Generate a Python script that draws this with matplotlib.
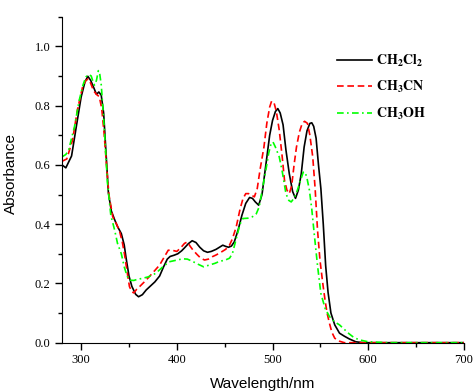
import matplotlib
matplotlib.use("Agg")
import matplotlib.pyplot as plt
from matplotlib.ticker import MultipleLocator

plt.rcParams['mathtext.fontset'] = 'stix'

# CH2Cl2 (black, solid)
wl_dcm = [280, 284, 290, 295, 300, 304, 307, 310, 313, 316, 318.5, 321, 323.5, 326,
          328.5, 331.5, 335, 338, 342, 345, 347, 350, 353, 357, 360, 364, 368, 372,
          377, 382, 386, 390, 393, 397, 401, 405, 408, 412, 416, 420, 424, 428, 432,
          436, 441, 445, 448, 451, 454, 457, 460, 464, 468, 472, 476, 479, 482, 485.5,
          489, 493, 497, 500, 503, 505.5, 508, 511, 514, 517.5, 521, 524, 527, 530,
          533, 536, 539, 541, 543, 545.5, 548, 550.5, 553, 555.5, 558, 561, 565, 570,
          575, 580, 587, 595, 620, 660, 700]
abs_dcm = [0.600, 0.590, 0.630, 0.730, 0.829, 0.880, 0.899, 0.885, 0.862, 0.838, 0.846,
           0.835, 0.775, 0.640, 0.505, 0.445, 0.415, 0.392, 0.368, 0.330, 0.285, 0.225,
           0.190, 0.163, 0.155, 0.162, 0.178, 0.190, 0.205, 0.225, 0.255, 0.282, 0.291,
           0.295, 0.300, 0.310, 0.320, 0.334, 0.344, 0.338, 0.322, 0.310, 0.305, 0.308,
           0.315, 0.323, 0.329, 0.325, 0.322, 0.326, 0.340, 0.380, 0.430, 0.470, 0.490,
           0.487, 0.475, 0.464, 0.500, 0.600, 0.700, 0.750, 0.780, 0.790, 0.775, 0.735,
           0.650, 0.570, 0.510, 0.487, 0.515, 0.570, 0.660, 0.715, 0.740, 0.742, 0.730,
           0.690, 0.600, 0.520, 0.400, 0.260, 0.170, 0.100, 0.060, 0.032, 0.022, 0.013,
           0.003, 0.0, 0.0, 0.0, 0.0]

# CH3CN (red, dashed)
wl_mecn = [280, 285, 291, 296, 301.5, 305, 307.5, 310, 313, 316, 319, 321.5, 324, 326.5,
           329, 333, 337, 340, 343, 345.5, 348, 350.5, 353, 355, 358, 361, 366, 371, 376,
           382, 387, 391, 395, 400, 404, 408, 411, 414, 417, 421, 425, 429, 433, 437,
           441, 446, 451, 455, 458, 462, 466, 469, 472, 475, 478, 481, 484, 487, 491,
           494, 497, 499, 501.5, 504, 507, 510, 512.5, 515, 517.5, 520, 522.5, 525, 528,
           531, 533.5, 536.5, 539, 542, 544.5, 547, 549.5, 552.5, 555, 557, 559.5, 562,
           565, 570, 575, 620, 660, 700]
abs_mecn = [0.612, 0.620, 0.683, 0.784, 0.863, 0.885, 0.890, 0.875, 0.850, 0.838, 0.830,
            0.790, 0.706, 0.600, 0.500, 0.425, 0.400, 0.378, 0.340, 0.295, 0.240, 0.189,
            0.172, 0.168, 0.180, 0.189, 0.205, 0.222, 0.240, 0.262, 0.290, 0.312, 0.312,
            0.308, 0.320, 0.335, 0.340, 0.325, 0.312, 0.298, 0.285, 0.279, 0.282, 0.290,
            0.296, 0.305, 0.315, 0.329, 0.350, 0.390, 0.450, 0.485, 0.503, 0.503, 0.498,
            0.492, 0.520, 0.585, 0.660, 0.740, 0.795, 0.815, 0.810, 0.780, 0.717, 0.630,
            0.548, 0.515, 0.503, 0.530, 0.600, 0.660, 0.710, 0.740, 0.747, 0.740, 0.700,
            0.627, 0.520, 0.380, 0.280, 0.200, 0.140, 0.100, 0.065, 0.035, 0.015, 0.005,
            0.0, 0.0, 0.0, 0.0]

# CH3OH (green, dash-dot)
wl_meoh = [280, 284, 287, 290, 293, 298, 302, 305, 308, 310.5, 312.5, 314, 316, 318,
           319.5, 321, 323, 324.5, 327.5, 331, 335, 338, 342, 345, 348, 350.5, 355, 359,
           364, 370, 378, 385, 392, 399, 406, 411, 416, 422, 428, 434, 440, 445, 450,
           455, 458, 462, 466, 469, 474, 479, 483, 486, 489.5, 493, 496, 498.5, 500.5,
           503, 507, 510, 514, 517, 519.5, 523, 526, 529, 532, 534, 536, 538.5, 541,
           543.5, 547, 550.5, 555, 559.5, 565, 570, 575, 580, 584, 590, 600, 620, 660, 700]
abs_meoh = [0.627, 0.635, 0.650, 0.690, 0.728, 0.818, 0.870, 0.897, 0.905, 0.900, 0.880,
            0.869, 0.885, 0.918, 0.905, 0.870, 0.780, 0.706, 0.540, 0.430, 0.380, 0.335,
            0.300, 0.256, 0.225, 0.211, 0.210, 0.214, 0.217, 0.222, 0.234, 0.255, 0.273,
            0.278, 0.283, 0.282, 0.275, 0.265, 0.256, 0.262, 0.268, 0.275, 0.278, 0.285,
            0.300, 0.350, 0.400, 0.419, 0.420, 0.425, 0.435, 0.458, 0.520, 0.582, 0.640,
            0.672, 0.677, 0.660, 0.627, 0.580, 0.503, 0.480, 0.475, 0.490, 0.515, 0.545,
            0.575, 0.576, 0.555, 0.515, 0.450, 0.369, 0.260, 0.166, 0.115, 0.088, 0.070,
            0.060, 0.045, 0.030, 0.020, 0.010, 0.003, 0.0, 0.0, 0.0]

labels = [r'$\mathbf{CH_2Cl_2}$', r'$\mathbf{CH_3CN}$', r'$\mathbf{CH_3OH}$']

fig = plt.figure(figsize=(4.74, 3.92), dpi=100)
ax = fig.add_axes([0.1308, 0.1258, 0.848, 0.8316])

ax.plot(wl_dcm, abs_dcm, color='black', lw=1.2, label=labels[0])
ax.plot(wl_mecn, abs_mecn, color='#ff0000', lw=1.2, dashes=(4, 2.2), label=labels[1])
ax.plot(wl_meoh, abs_meoh, color='#00ff00', lw=1.2, dashes=(4, 2, 1, 2), label=labels[2])

ax.set_xlim(280, 700)
ax.set_ylim(0, 1.1)
ax.spines['top'].set_visible(False)
ax.spines['right'].set_visible(False)
ax.xaxis.set_major_locator(MultipleLocator(100))
ax.xaxis.set_minor_locator(MultipleLocator(50))
ax.yaxis.set_major_locator(MultipleLocator(0.2))
ax.yaxis.set_minor_locator(MultipleLocator(0.1))
ax.set_xticks([300, 400, 500, 600, 700])
ax.tick_params(which='major', direction='out', length=5, width=1)
ax.tick_params(which='minor', direction='out', length=3, width=1)
ax.yaxis.set_major_formatter(plt.FuncFormatter(lambda v, p: f'{v:.1f}'))
for lab in ax.get_xticklabels() + ax.get_yticklabels():
    lab.set_fontfamily('Liberation Serif')
    lab.set_fontsize(9)

ax.set_xlabel('Wavelength/nm', fontfamily='Liberation Sans', fontsize=11)
ax.set_ylabel('Absorbance', fontfamily='Liberation Sans', fontsize=11)
ax.xaxis.set_label_coords(0.5, -0.105)
ax.yaxis.set_label_coords(-0.11, 0.52)

ax.legend(loc='upper left', bbox_to_anchor=(0.684, 0.89), frameon=False,
          fontsize=10, handlelength=2.5, handletextpad=0.3, labelspacing=0.75,
          borderpad=0, borderaxespad=0)

fig.savefig('out.png', dpi=100)
